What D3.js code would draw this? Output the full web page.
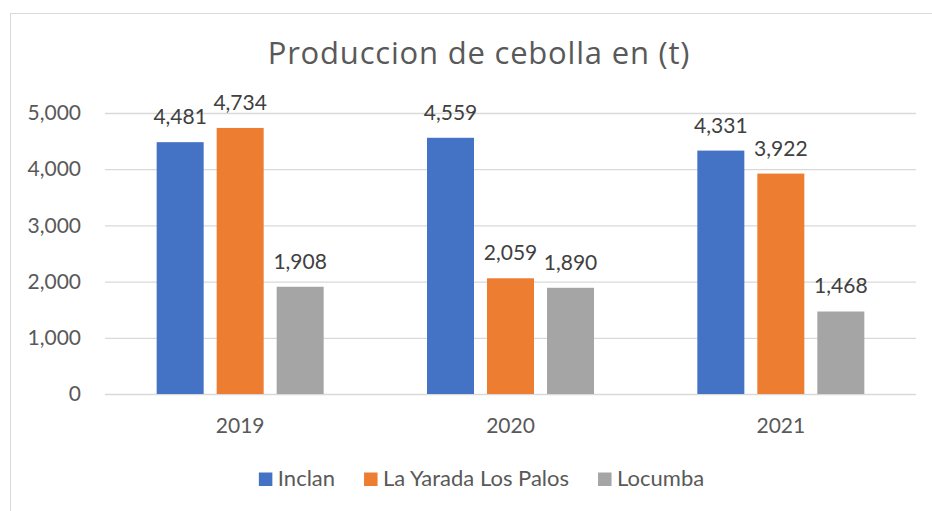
<!DOCTYPE html>
<html>
<head>
<meta charset="utf-8">
<script src="https://cdn.jsdelivr.net/npm/d3@7"></script>
<style>
  body { margin: 0; background: #fff; }
  svg { display: block; font-family: Lato, "Open Sans", sans-serif; }
</style>
</head>
<body>
<svg id="chart" width="932" height="511"></svg>
<script>
var years = ["2019", "2020", "2021"];
var seriesNames = ["Inclan", "La Yarada Los Palos", "Locumba"];
var inclan = [4481, 4559, 4331];
var laYarada = [4734, 2059, 3922];
var locumba = [1908, 1890, 1468];
var yTicks = [0, 1000, 2000, 3000, 4000, 5000];
var colors = ["#4472C4", "#ED7D31", "#A5A5A5"];

var seriesValues = [inclan, laYarada, locumba];
var rows = [];
years.forEach(function (yr, i) {
    seriesNames.forEach(function (s, j) {
        rows.push({ year: yr, series: s, value: seriesValues[j][i], color: colors[j] });
    });
});

var svg = d3.select("#chart");

// outer frame (continues past the right/bottom edge like the source image)
svg.append("rect")
    .attr("x", 10.5).attr("y", 13.5)
    .attr("width", 1000).attr("height", 600)
    .attr("fill", "#fff").attr("stroke", "#D9D9D9").attr("stroke-width", 1);

var x0 = d3.scaleBand().domain(years).range([105, 916]);
var x1 = d3.scaleBand().domain(seriesNames).range([-83.5, 83.5]).paddingInner(13 / 60);
var y = d3.scaleLinear().domain([0, 5000]).range([394, 113]);

svg.append("text")
    .attr("x", 479).attr("y", 64)
    .attr("text-anchor", "middle")
    .attr("fill", "#595959")
    .style("font-family", "'Open Sans', sans-serif")
    .style("font-size", "31px")
    .style("letter-spacing", "0.8px")
    .text("Produccion de cebolla en (t)");

// y axis with gridlines
var yAxis = svg.append("g")
    .attr("transform", "translate(105,0)")
    .call(d3.axisLeft(y).tickValues(yTicks).tickFormat(d3.format(",")).tickSize(-811).tickPadding(24));
yAxis.select(".domain").remove();
yAxis.selectAll(".tick line").attr("stroke", "#D9D9D9").attr("stroke-width", 1.3);
yAxis.selectAll(".tick text")
    .attr("fill", "#595959")
    .style("font-size", "21px")
    .style("font-family", "Lato, sans-serif");

// x axis labels
var xAxis = svg.append("g")
    .attr("transform", "translate(0,394)")
    .call(d3.axisBottom(x0).tickSize(0).tickPadding(0));
xAxis.select(".domain").remove();
xAxis.selectAll(".tick text")
    .attr("dy", null)
    .attr("y", 39)
    .attr("fill", "#595959")
    .style("font-size", "21px")
    .style("font-family", "Lato, sans-serif");

// bars
var groups = svg.append("g").selectAll("g")
    .data(rows)
    .join("g")
    .attr("transform", function (d) { return "translate(" + (x0(d.year) + x0.bandwidth() / 2) + ",0)"; });

groups.append("rect")
    .attr("x", function (d) { return x1(d.series); })
    .attr("y", function (d) { return y(d.value); })
    .attr("width", x1.bandwidth())
    .attr("height", function (d) { return y(0) - y(d.value); })
    .attr("fill", function (d) { return d.color; });

groups.append("text")
    .attr("x", function (d) { return x1(d.series) + x1.bandwidth() / 2; })
    .attr("y", function (d) { return y(d.value) - 18; })
    .attr("text-anchor", "middle")
    .attr("fill", "#404040")
    .style("font-size", "21px")
    .text(function (d) { return d3.format(",")(d.value); });

// legend
var legend = svg.append("g").attr("transform", "translate(0,486)");
var items = legend.selectAll("g").data(seriesNames).join("g");
items.append("rect")
    .attr("y", -13.5).attr("width", 13.5).attr("height", 13.5)
    .attr("fill", function (d, i) { return colors[i]; });
items.append("text")
    .attr("x", 19).attr("y", 0)
    .attr("fill", "#595959")
    .style("font-size", "22px")
    .text(function (d) { return d; });

var widths = [];
items.each(function () { widths.push(19 + this.querySelector("text").getComputedTextLength()); });
var gap = 29;
var total = d3.sum(widths) + gap * (widths.length - 1);
var lx = 481.5 - total / 2;
items.attr("transform", function (d, i) {
    var pos = lx;
    lx += widths[i] + gap;
    return "translate(" + pos + ",0)";
});
</script>
</body>
</html>
